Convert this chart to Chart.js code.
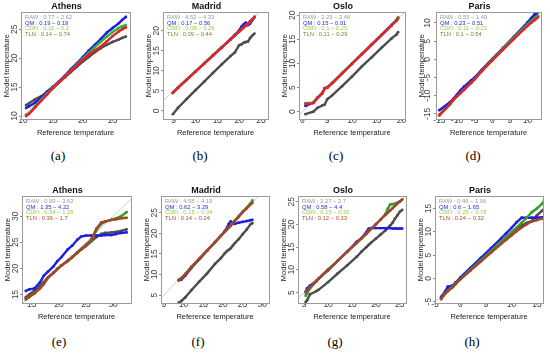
<!DOCTYPE html>
<html>
<head>
<meta charset="utf-8">
<script src="https://cdn.jsdelivr.net/npm/chart.js@4.4.0/dist/chart.umd.min.js"></script>
<style>
  body { margin: 0; background: #fff; width: 550px; height: 355px; position: relative; overflow: hidden; }
  canvas.panel { position: absolute; }
  .sub { position: absolute; width: 40px; margin-left: -20px; text-align: center; font-family: "Liberation Serif", serif; font-size: 13px; color: #000; line-height: 14px; }
</style>
</head>
<body>
<script>
// Q-Q data: x = reference temperature quantiles, y = model quantiles per method
// (a) Athens, top row
const athensX1 = [10.5, 11, 12, 13, 14, 15, 16, 17, 18, 19, 20, 21, 22, 23, 24, 25, 26, 26.6, 27.2];
const athensRaw1 = [11.9, 12.2, 12.9, 13.4, 14.1, 14.9, 15.8, 16.7, 17.6, 18.5, 19.4, 20.2, 21.0, 21.7, 22.3, 22.8, 23.2, 23.5, 23.7];
const athensQm1 = [11.4, 11.7, 12.3, 13.2, 14.2, 15.1, 16.0, 17.0, 18.1, 19.1, 20.2, 21.3, 22.3, 23.3, 24.4, 25.2, 26.0, 26.6, 27.1];
const athensCdft1 = [10.2, 10.5, 11.6, 12.8, 13.9, 14.9, 15.9, 16.9, 17.9, 18.9, 19.9, 20.9, 21.9, 22.8, 23.7, 24.5, 25.2, 25.5, 25.7];
const athensTln1 = [10.0, 10.4, 11.5, 12.6, 13.7, 14.8, 15.8, 16.8, 17.8, 18.8, 19.7, 20.6, 21.3, 22.0, 22.9, 23.8, 24.6, 25.0, 25.3];
const athensStats1 = ["0.77 \u2212 2.62", "0.19 \u2212 0.19", "0.11 \u2212 0.2", "0.14 \u2212 0.74"];

// (b) Madrid, top row
const madridX1 = [4.8, 6, 8, 10, 12, 14, 16, 18, 19, 20, 20.5, 21, 21.5, 22, 22.5, 23, 23.5];
const madridRaw1 = [-0.8, 0.8, 3.0, 5.2, 7.3, 9.5, 11.6, 13.7, 14.6, 16.4, 16.6, 17.0, 17.2, 17.3, 18.2, 18.8, 19.3];
const madridQm1 = [4.5, 5.8, 7.8, 9.9, 11.9, 13.9, 15.9, 17.9, 19.0, 20.1, 21.0, 21.6, 22.0, 21.4, 21.8, 22.6, 23.3];
const madridCdft1 = [4.6, 5.9, 7.9, 9.9, 11.9, 13.9, 15.8, 17.8, 18.8, 19.8, 20.3, 20.8, 21.2, 21.7, 22.2, 22.8, 23.4];
const madridTln1 = [4.5, 5.8, 7.8, 9.8, 11.8, 13.8, 15.8, 17.8, 18.8, 19.8, 20.3, 20.8, 21.3, 21.8, 22.4, 22.9, 23.5];
const madridStats1 = ["4.52 \u2212 4.33", "0.17 \u2212 0.56", "0.08 \u2212 0.26", "0.09 \u2212 0.44"];

// (c) Oslo, top row
const osloX1 = [0.6, 2.2, 3, 4, 4.5, 5, 6, 8, 10, 12, 14, 16, 18, 19, 19.3];
const osloRaw1 = [-0.5, 0.0, 0.8, 1.3, 1.5, 2.6, 3.4, 5.3, 7.3, 9.4, 11.3, 13.3, 15.2, 16.0, 16.5];
const osloQm1 = [1.2, 1.9, 2.9, 3.9, 4.8, 5.0, 6.0, 8.0, 10.0, 12.0, 14.0, 16.0, 18.0, 19.0, 19.5];
const osloCdft1 = [1.8, 1.9, 2.8, 3.8, 4.9, 5.1, 6.0, 8.0, 10.0, 12.0, 13.9, 15.9, 17.9, 18.9, 19.6];
const osloTln1 = [1.6, 1.8, 2.8, 3.8, 4.9, 5.0, 5.9, 7.9, 9.9, 11.9, 13.9, 15.9, 17.9, 18.9, 19.3];
const osloStats1 = ["2.29 \u2212 2.46", "0.15 \u2212 0.01", "0.1 \u2212 0.25", "0.11 \u2212 0.29"];

// (d) Paris, top row
const parisX1 = [-15, -12, -11, -10, -9, -8, -6, -5, -3, 0, 3, 6, 9, 10, 11, 12, 12.5, 13];
const parisRaw1 = [-15.3, -12.3, -11.2, -10.0, -9.1, -8.0, -6.3, -5.2, -3.0, 0.0, 2.9, 5.8, 8.8, 9.8, 10.8, 11.8, 12.3, 12.9];
const parisQm1 = [-14.0, -11.8, -10.8, -9.7, -8.5, -7.5, -5.8, -5.0, -2.9, 0.1, 3.1, 6.1, 9.1, 10.2, 11.3, 12.4, 12.8, 13.3];
const parisCdft1 = [-15.5, -12.5, -11.2, -10.2, -9.3, -8.3, -6.5, -5.4, -3.2, -0.1, 2.9, 5.8, 8.7, 9.6, 10.5, 11.3, 11.6, 11.9];
const parisTln1 = [-15.3, -12.2, -11.0, -10.1, -9.3, -8.4, -6.5, -5.5, -3.3, -0.3, 2.6, 5.5, 8.3, 9.2, 10.0, 10.8, 11.2, 11.6];
const parisStats1 = ["0.55 \u2212 1.49", "0.23 \u2212 0.51", "0.11 \u2212 0.23", "0.1 \u2212 0.54"];

// (e) Athens, bottom row
const athensX2 = [13.9, 14.5, 15.5, 16.5, 17.2, 18, 19, 19.7, 20.5, 21.6, 22.5, 23.4, 24.1, 25, 26, 26.9, 27.8, 28.5, 29.7, 30.5, 31.5, 32.5];
const athensRaw2 = [14.5, 15.0, 15.8, 16.6, 17.4, 18.3, 19.2, 19.9, 20.6, 21.5, 22.2, 23.0, 23.6, 24.3, 25.2, 26.0, 26.6, 26.8, 26.9, 27.0, 27.2, 27.5];
const athensQm2 = [15.7, 16.0, 16.2, 17.3, 18.6, 19.4, 20.4, 21.4, 22.2, 23.6, 24.4, 25.5, 26.1, 26.3, 26.3, 26.3, 26.3, 26.4, 26.4, 26.6, 26.8, 26.9];
const athensCdft2 = [14.0, 14.5, 15.3, 16.2, 17.1, 18.2, 19.1, 19.9, 20.6, 21.4, 22.2, 23.0, 23.7, 24.5, 25.4, 27.3, 28.5, 28.9, 29.3, 29.6, 30.0, 30.8];
const athensTln2 = [14.2, 14.6, 15.2, 16.2, 17.0, 18.3, 19.2, 19.9, 20.6, 21.4, 22.2, 23.1, 23.7, 24.5, 25.6, 27.6, 28.8, 29.0, 29.3, 29.4, 29.6, 29.7];
const athensStats2 = ["0.99 \u2212 3.63", "1.35 \u2212 4.22", "0.54 \u2212 1.26", "0.36 \u2212 1.7"];

// (f) Madrid, bottom row
const madridX2 = [8.8, 9.5, 10.5, 12, 14, 16, 18, 19.5, 20.5, 21, 21.5, 22, 22.5, 23, 24, 25, 26, 27, 27.5];
const madridRaw2 = [3.2, 3.6, 4.5, 6.2, 8.3, 10.3, 12.6, 14.0, 15.2, 15.7, 16.0, 16.4, 17.0, 17.6, 18.6, 19.8, 20.9, 22.2, 22.5];
const madridQm2 = [8.6, 8.8, 9.8, 11.6, 13.7, 15.8, 17.9, 19.4, 20.6, 21.3, 22.3, 22.9, 22.6, 22.3, 22.6, 22.8, 23.0, 23.2, 23.3];
const madridCdft2 = [8.8, 9.2, 10.2, 11.9, 13.9, 15.9, 17.9, 19.5, 20.5, 21.0, 21.5, 22.0, 22.5, 23.1, 24.2, 25.3, 26.2, 27.3, 28.0];
const madridTln2 = [8.6, 9.1, 10.1, 11.8, 13.8, 15.8, 17.8, 19.4, 20.4, 20.9, 21.4, 21.9, 22.4, 23.0, 24.0, 25.1, 26.0, 27.0, 27.4];
const madridStats2 = ["4.58 \u2212 4.19", "0.62 \u2212 3.29", "0.15 \u2212 0.34", "0.14 \u2212 0.24"];

// (g) Oslo, bottom row
const osloX2 = [5.3, 5.6, 6.2, 7.5, 8, 10, 12, 14, 16, 17, 18, 18.5, 19, 20, 21, 22, 22.5, 23, 23.5, 24, 24.5, 25, 25.5];
const osloRaw2 = [2.9, 3.3, 4.6, 5.3, 5.6, 7.3, 9.2, 11.0, 12.9, 14.0, 15.0, 15.5, 16.0, 16.9, 17.8, 18.7, 19.2, 19.8, 20.4, 21.3, 22.0, 22.8, 23.2];
const osloQm2 = [5.2, 5.9, 6.5, 7.5, 8.0, 9.9, 12.0, 14.0, 16.2, 17.0, 18.3, 19.1, 19.2, 19.2, 19.2, 19.2, 19.2, 19.2, 19.1, 19.1, 19.1, 19.1, 19.1];
const osloCdft2 = [4.3, 4.8, 5.9, 7.4, 8.0, 10.0, 12.0, 14.0, 15.9, 16.9, 17.9, 18.5, 19.0, 20.0, 21.1, 22.3, 23.5, 24.4, 24.5, 24.6, 24.8, 25.0, 25.5];
const osloTln2 = [5.0, 5.5, 6.2, 7.6, 8.1, 10.1, 12.0, 14.0, 16.0, 17.0, 18.0, 18.6, 19.1, 20.1, 21.1, 22.1, 22.6, 23.1, 23.6, 24.1, 24.6, 25.1, 25.5];
const osloStats2 = ["2.27 \u2212 2.7", "0.58 \u2212 4.4", "0.15 \u2212 0.36", "0.12 \u2212 0.33"];

// (h) Paris, bottom row
const parisX2 = [-3.8, -3, -2.5, -1.5, -1, 0, 2, 4, 6, 8, 9, 10, 11, 12, 13, 14, 15, 16, 16.5];
const parisRaw2 = [-4.2, -3.2, -2.4, -1.6, -0.9, 0.0, 1.9, 3.9, 5.8, 7.7, 8.7, 9.6, 10.5, 11.3, 11.9, 12.3, 13.5, 14.5, 15.0];
const parisQm2 = [-4.0, -2.8, -1.8, -1.5, -1.0, 0.2, 2.3, 4.4, 6.5, 8.6, 9.7, 10.8, 12.0, 13.0, 13.0, 13.0, 13.0, 13.1, 13.1];
const parisCdft2 = [-4.5, -3.2, -2.7, -1.7, -1.1, -0.1, 1.9, 3.9, 5.9, 7.9, 8.9, 9.9, 10.9, 11.9, 13.0, 14.2, 15.0, 16.0, 16.8];
const parisTln2 = [-4.4, -3.3, -2.8, -1.9, -1.3, -0.2, 1.7, 3.6, 5.5, 7.4, 8.3, 9.2, 10.1, 10.9, 11.6, 12.2, 12.5, 12.8, 13.0];
const parisStats2 = ["0.46 \u2212 1.06", "0.6 \u2212 1.65", "0.25 \u2212 0.78", "0.24 \u2212 0.32"];

const methods = ["RAW", "QM", "CDFt", "TLN"];
const FONT = "'Liberation Sans', Arial, sans-serif";

const panels = [
  { tag: "(a)", title: "Athens", row: 0, left: 0,   w: 137, x: athensX1, ys: [athensRaw1, athensQm1, athensCdft1, athensTln1], stats: athensStats1, xr: [9.65, 27.9], yr: [9.5, 27.9] },
  { tag: "(b)", title: "Madrid", row: 0, left: 142, w: 133, x: madridX1, ys: [madridRaw1, madridQm1, madridCdft1, madridTln1], stats: madridStats1, xr: [2.55, 26.6], yr: [-2.0, 24.6] },
  { tag: "(c)", title: "Oslo",   row: 0, left: 278, w: 134, x: osloX1,   ys: [osloRaw1, osloQm1, osloCdft1, osloTln1], stats: osloStats1, xr: [-0.7, 20.7], yr: [-1.5, 20.6] },
  { tag: "(d)", title: "Paris",  row: 0, left: 415, w: 133, x: parisX1,  ys: [parisRaw1, parisQm1, parisCdft1, parisTln1], stats: parisStats1, xr: [-15.95, 13.8], yr: [-16.4, 12.9] },
  { tag: "(e)", title: "Athens", row: 1, left: 1,   w: 137, x: athensX2, ys: [athensRaw2, athensQm2, athensCdft2, athensTln2], stats: athensStats2, xr: [13.2, 33.3], yr: [13.4, 33.8] },
  { tag: "(f)", title: "Madrid", row: 1, left: 140, w: 136, x: madridX2, ys: [madridRaw2, madridQm2, madridCdft2, madridTln2], stats: madridStats2, xr: [4.3, 31.7], yr: [3.1, 29.0] },
  { tag: "(g)", title: "Oslo",   row: 1, left: 277, w: 136, x: osloX2,   ys: [osloRaw2, osloQm2, osloCdft2, osloTln2], stats: osloStats2, xr: [3.7, 26.3], yr: [2.7, 26.2] },
  { tag: "(h)", title: "Paris",  row: 1, left: 414, w: 136, x: parisX2,  ys: [parisRaw2, parisQm2, parisCdft2, parisTln2], stats: parisStats2, xr: [-5.0, 16.2], yr: [-5.3, 17.6] },
];

// line colours per row: RAW, QM, CDFt, TLN
const lineColors = [
  ["#4d4d4d", "#1f1fe0", "#2fb52f", "#e8202a"],
  ["#4d4d4d", "#1f1fe0", "#3a9a2a", "#a5442a"],
];
const textColors = [
  ["#9a9a9a", "#2a2ae0", "#8fcf3f", "#8a7a30"],
  ["#9a9a9a", "#2a2ae0", "#8fcf3f", "#b04a32"],
];

const rowTop = [0, 184];
const tagY = [149, 335];

// box around plot region (like R's box())
const boxPlugin = {
  id: "box",
  afterDraw(chart) {
    const { ctx, chartArea: a } = chart;
    ctx.save();
    ctx.strokeStyle = "#9a9a9a";
    ctx.lineWidth = 1;
    ctx.strokeRect(Math.round(a.left) + 0.5, Math.round(a.top) + 0.5, Math.round(a.width), Math.round(a.height));
    ctx.restore();
  }
};

// error summary text in the upper left corner
const statsPlugin = {
  id: "stats",
  afterDatasetsDraw(chart, args, opts) {
    const { ctx, chartArea: a } = chart;
    ctx.save();
    ctx.font = "5.8px " + FONT;
    ctx.textBaseline = "top";
    opts.lines.forEach((t, i) => {
      ctx.fillStyle = opts.colors[i];
      ctx.fillText(methods[i] + " : " + t, a.left + 4, a.top + 2 + i * 5.8);
    });
    ctx.restore();
  }
};

function qq(xs, ys) {
  return xs.map((x, i) => ({ x: x, y: ys[i] }));
}

function axis(range, label, vertical) {
  return {
    type: "linear",
    min: range[0],
    max: range[1],
    border: { display: false },
    grid: { drawOnChartArea: false, drawTicks: true, tickLength: 2, color: "#8a8a8a" },
    ticks: {
      stepSize: 5,
      includeBounds: false,
      autoSkip: false,
      padding: 0,
      color: "#444",
      font: { family: FONT, size: 8.5, lineHeight: 1 },
      minRotation: vertical ? 90 : 0,
      maxRotation: vertical ? 90 : 0,
      crossAlign: "center",
    },
    title: {
      display: true,
      text: label,
      color: "#222",
      font: { family: FONT, size: 7.5, lineHeight: 1 },
      padding: { top: 0, bottom: 0 },
    },
  };
}

panels.forEach((p) => {
  const cv = document.createElement("canvas");
  cv.className = "panel";
  cv.width = p.w;
  cv.height = 140;
  cv.style.left = p.left + "px";
  cv.style.top = rowTop[p.row] + "px";
  document.body.appendChild(cv);

  const lo = Math.min(p.xr[0], p.yr[0]) - 2;
  const hi = Math.max(p.xr[1], p.yr[1]) + 2;
  const cols = lineColors[p.row];

  const datasets = p.ys.map((ys, i) => ({
    label: methods[i],
    data: qq(p.x, ys),
    showLine: true,
    borderColor: cols[i],
    backgroundColor: cols[i],
    borderWidth: 2.4,
    pointRadius: 1.4,
    pointBorderWidth: 0,
    order: 4 - i,
  }));
  datasets.push({
    label: "1:1",
    data: [{ x: lo, y: lo }, { x: hi, y: hi }],
    showLine: true,
    borderColor: "#cfcfcf",
    borderWidth: 1,
    pointRadius: 0,
    order: 9,
  });

  new Chart(cv, {
    type: "scatter",
    data: { datasets: datasets },
    options: {
      responsive: false,
      animation: false,
      events: [],
      layout: { padding: { left: 3, right: 7, top: 0, bottom: 3 } },
      plugins: {
        legend: { display: false },
        tooltip: { enabled: false },
        title: {
          display: true,
          text: p.title,
          color: "#111",
          font: { family: FONT, size: 9, weight: "bold", lineHeight: 1.15 },
          padding: { top: 1, bottom: 1 },
        },
        stats: { lines: p.stats, colors: textColors[p.row] },
      },
      scales: {
        x: axis(p.xr, "Reference temperature", false),
        y: axis(p.yr, "Model temperature", true),
      },
    },
    plugins: [boxPlugin, statsPlugin],
  });

  const tag = document.createElement("div");
  tag.className = "sub";
  tag.textContent = p.tag;
  tag.style.left = (p.left + 58) + "px";
  tag.style.top = tagY[p.row] + "px";
  document.body.appendChild(tag);
});
</script>
</body>
</html>
